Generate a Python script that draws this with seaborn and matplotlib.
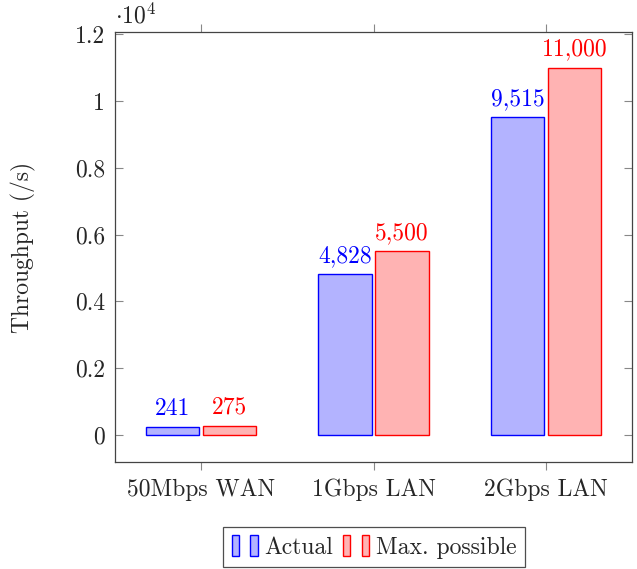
import pandas as pd
import seaborn as sns
import matplotlib.pyplot as plt
from matplotlib.patches import Patch
from matplotlib.legend_handler import HandlerTuple
from matplotlib.ticker import FuncFormatter

links = ['50Mbps WAN', '1Gbps LAN', '2Gbps LAN']
actual = [241, 4828, 9515]
max_possible = [275, 5500, 11000]
series = ['Actual', 'Max. possible']

fills = ['#b3b3ff', '#ffb3b3']
edges = ['#0000ff', '#ff0000']

df = pd.DataFrame({
    'link': links * 2,
    'throughput': actual + max_possible,
    'kind': [series[0]] * 3 + [series[1]] * 3,
})

sns.set_style('ticks')
plt.rcParams['font.family'] = ['cmr10', 'DejaVu Serif']
plt.rcParams['mathtext.fontset'] = 'cm'
plt.rcParams['axes.formatter.use_mathtext'] = True

FS = 17

fig = plt.figure(figsize=(6.37, 5.69), dpi=100)
ax = fig.add_axes([0.1805, 0.188, 0.8117, 0.7558])

sns.barplot(data=df, x='link', y='throughput', hue='kind', palette=fills,
            saturation=1, width=0.66, gap=0.06, legend=False, ax=ax,
            linewidth=1)

for cont, ec, vals in zip(ax.containers, edges, [actual, max_possible]):
    for p in cont:
        p.set_edgecolor(ec)
    ax.bar_label(cont, labels=[f'{v:,}' for v in vals], color=ec,
                 padding=5, fontsize=FS)

ax.set_xlim(-0.5, 2.5)
ax.set_ylim(-808, 12066)
ax.set_yticks([0, 2000, 4000, 6000, 8000, 10000, 12000])
ax.yaxis.set_major_formatter(FuncFormatter(lambda v, p: f'{v / 10000:g}'))
ax.set_xlabel('')
ax.set_ylabel('Throughput (/s)', fontsize=FS, labelpad=28)
ax.text(0.0, 1.008, r'$\cdot 10^4$', transform=ax.transAxes, fontsize=FS,
        ha='left', va='bottom')

for s in ax.spines.values():
    s.set_visible(True)
    s.set_color('#444444')
    s.set_linewidth(0.9)

ax.tick_params(axis='y', direction='in', left=True, right=True, length=6,
               width=0.8, color='#888888', labelsize=FS, pad=7)
ax.tick_params(axis='x', direction='out', bottom=True, top=True, length=6,
               width=0.8, color='#888888', labelsize=FS, pad=6)

handles = [(Patch(facecolor=f, edgecolor=e), Patch(facecolor=f, edgecolor=e))
           for f, e in zip(fills, edges)]
leg = fig.legend(handles, series, handler_map={tuple: HandlerTuple(ndivide=None, pad=0.5)},
                 loc='upper center', bbox_to_anchor=(374 / 637, 1 - 527 / 569),
                 ncol=2, frameon=True, fancybox=False, fontsize=FS,
                 handlelength=1.1, handleheight=1.0, handletextpad=0.3,
                 columnspacing=0.4, borderpad=0.35, borderaxespad=0)
leg.get_frame().set_edgecolor('#222222')
leg.get_frame().set_linewidth(0.9)

fig.savefig('out.png', dpi=100)
